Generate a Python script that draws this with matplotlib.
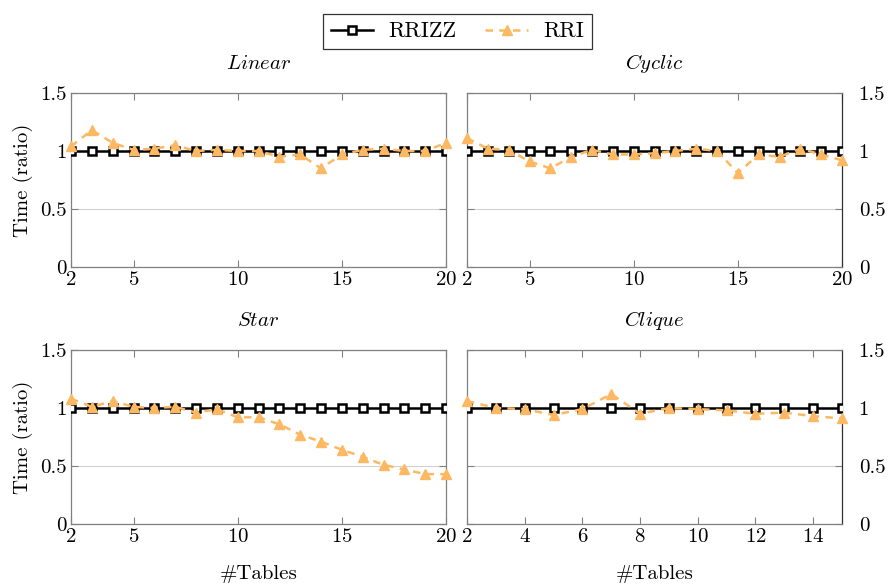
import matplotlib
matplotlib.use("Agg")
import matplotlib.pyplot as plt
from matplotlib.lines import Line2D

plt.rcParams["font.family"] = ["cmr10", "DejaVu Serif"]
plt.rcParams["mathtext.fontset"] = "cm"
plt.rcParams["axes.formatter.use_mathtext"] = True

# Data
x20 = list(range(2, 21))
x15 = list(range(2, 16))

linear_rri = [1.04, 1.18, 1.07, 1.01, 1.02, 1.05, 1.00, 1.01, 1.00, 1.00,
              0.95, 0.97, 0.85, 0.97, 1.01, 1.02, 1.00, 1.00, 1.07]
cyclic_rri = [1.11, 1.02, 1.01, 0.91, 0.85, 0.95, 1.01, 0.97, 0.97, 0.98,
              1.00, 1.02, 1.00, 0.81, 0.97, 0.95, 1.02, 0.97, 0.92]
star_rri = [1.08, 1.01, 1.06, 1.01, 1.00, 1.01, 0.96, 0.99, 0.92, 0.92,
            0.86, 0.77, 0.71, 0.64, 0.58, 0.51, 0.47, 0.43, 0.43]
clique_rri = [1.06, 1.00, 0.99, 0.94, 0.99, 1.12, 0.95, 1.00, 0.99, 0.98,
              0.95, 0.96, 0.93, 0.91]

panels = [
    ("Linear", x20, linear_rri, [2, 5, 10, 15, 20], (2, 20)),
    ("Cyclic", x20, cyclic_rri, [2, 5, 10, 15, 20], (2, 20)),
    ("Star", x20, star_rri, [2, 5, 10, 15, 20], (2, 20)),
    ("Clique", x15, clique_rri, [2, 4, 6, 8, 10, 12, 14], (2, 15)),
]

ORANGE = "#fdb863"
W, H = 888, 586
fig = plt.figure(figsize=(W / 100, H / 100), dpi=100)

# axes boxes in pixels: (left, top, right, bottom)
boxes = [(71, 93, 446, 267), (467, 93, 842, 267),
         (71, 350, 446, 524), (467, 350, 842, 524)]

for i, ((name, xs, rri, xt, xl), (l, t, r, b)) in enumerate(zip(panels, boxes)):
    ax = fig.add_axes([l / W, 1 - b / H, (r - l) / W, (b - t) / H])
    ax.plot(xs, [1.0] * len(xs), color="black", lw=1.8, marker="s", ms=6,
            mfc="white", mec="black", mew=1.8, zorder=3)
    ax.plot(xs, rri, color=ORANGE, lw=1.8, ls=(0, (3, 2.5)), marker="^", ms=7,
            mfc=ORANGE, mec=ORANGE, zorder=4, clip_on=False)
    ax.set_xlim(*xl)
    ax.set_ylim(0, 1.5)
    ax.set_xticks(xt)
    ax.set_yticks([0, 0.5, 1, 1.5])
    ax.set_yticklabels(["0", "0.5", "1", "1.5"])
    ax.grid(axis="y", color="#d0d0d0", lw=0.8)
    ax.set_axisbelow(True)
    for s in ax.spines.values():
        s.set_color("#808080")
        s.set_linewidth(0.9)
    ax.tick_params(direction="in", top=True, bottom=True, left=True, right=True,
                   color="#808080", length=5, labelsize=15, pad=3)
    ax.set_title(r"$\mathit{%s}$" % name, fontsize=15, pad=17)
    if i % 2 == 0:
        ax.set_ylabel("Time (ratio)", fontsize=15, labelpad=5)
    else:
        ax.spines["right"].set_color("#303030")
        ax.tick_params(axis="y", labelleft=False, labelright=True, pad=12)
    if i >= 2:
        ax.set_xlabel("#Tables", fontsize=15)
        ax.xaxis.set_label_coords(0.5, -0.235)

handles = [
    Line2D([], [], color="black", lw=1.8, marker="s", ms=6, mfc="white",
           mec="black", mew=1.8),
    Line2D([], [], color=ORANGE, lw=1.8, ls=(0, (3, 2.5)), marker="^", ms=7,
           mfc=ORANGE, mec=ORANGE),
]
leg = fig.legend(handles, ["RRIZZ", "RRI"], loc="upper center",
                 bbox_to_anchor=(0.515, 0.995), ncol=2, fontsize=16,
                 frameon=True, fancybox=False, edgecolor="black",
                 handlelength=1.9, columnspacing=1.3, borderpad=0.35,
                 handletextpad=0.7)
leg.get_frame().set_linewidth(0.9)

fig.savefig("out.png", dpi=100)
